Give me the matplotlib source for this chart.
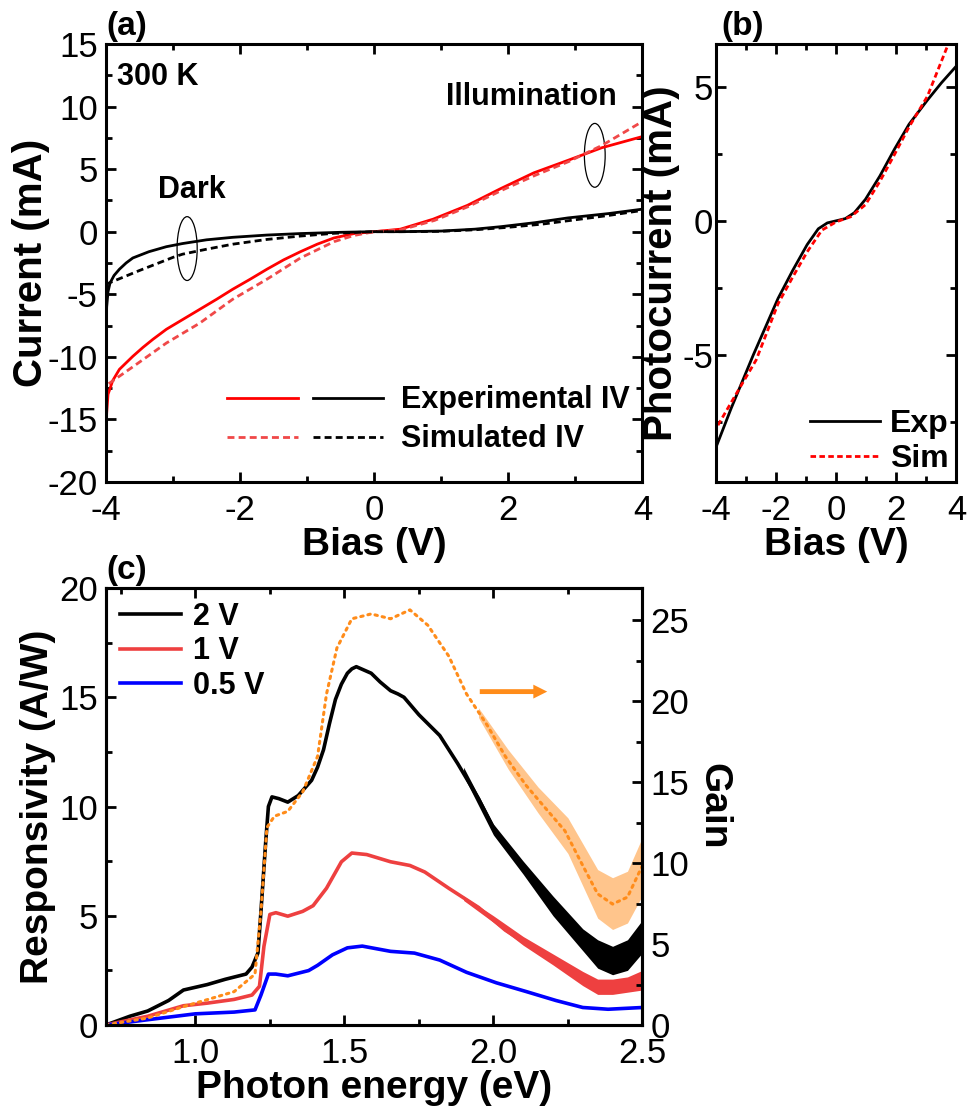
import numpy as np
import matplotlib
matplotlib.use('Agg')
import matplotlib.pyplot as plt
from matplotlib.legend_handler import HandlerTuple
from matplotlib.patches import Ellipse
from matplotlib.ticker import MultipleLocator, FormatStrFormatter

plt.rcParams['font.family'] = ['Liberation Sans', 'DejaVu Sans']
plt.rcParams['axes.unicode_minus'] = False
plt.rcParams['xtick.direction'] = 'in'
plt.rcParams['ytick.direction'] = 'in'

# ---- (a) IV curves, dark and illuminated ----
dark_exp_v = [-4.0, -3.99, -3.97, -3.94, -3.88, -3.8, -3.7, -3.6, -3.36, -3.1, -2.86, -2.5,
              -2.11, -1.6, -1.1, -0.5, 0.0, 0.4, 1.0, 1.5, 1.89, 2.4, 2.89, 3.5, 4.0]
dark_exp_i = [-8.0, -6.0, -4.8, -4.1, -3.5, -3.0, -2.5, -2.1, -1.6, -1.2, -0.95, -0.65,
              -0.45, -0.27, -0.15, -0.05, 0.0, 0.0, 0.05, 0.2, 0.4, 0.72, 1.1, 1.45, 1.8]
dark_sim_v = [-4.0, -3.5, -3.0, -2.86, -2.5, -2.11, -1.6, -1.1, -0.6, 0.0, 0.5, 1.0, 1.5,
              2.0, 2.5, 3.0, 3.5, 4.0]
dark_sim_i = [-4.2, -3.1, -2.05, -1.8, -1.4, -1.0, -0.62, -0.35, -0.13, 0.0, 0.0, 0.03, 0.15,
              0.35, 0.6, 0.95, 1.3, 1.7]
ill_exp_v = [-4.0, -3.99, -3.97, -3.9, -3.8, -3.6, -3.45, -3.3, -3.1, -2.85, -2.6, -2.35,
             -2.11, -1.85, -1.6, -1.35, -1.1, -0.85, -0.6, -0.3, 0.0, 0.39, 0.88, 1.39, 1.89,
             2.38, 2.89, 3.39, 4.0]
ill_exp_i = [-16.2, -14.5, -13.0, -11.9, -11.0, -9.96, -9.25, -8.6, -7.8, -7.0, -6.2, -5.4,
             -4.6, -3.8, -3.0, -2.25, -1.6, -1.0, -0.5, -0.15, 0.0, 0.2, 1.0, 2.1, 3.45,
             4.7, 5.7, 6.7, 7.6]
ill_sim_v = [-3.96, -3.6, -3.1, -2.6, -2.11, -1.6, -1.1, -0.6, -0.3, 0.0, 0.4, 0.9, 1.4, 1.9,
             2.4, 2.9, 3.4, 4.0]
ill_sim_i = [-12.15, -10.8, -8.9, -7.3, -5.4, -3.8, -2.1, -0.8, -0.3, 0.0, 0.15, 0.9, 2.0, 3.3,
             4.5, 5.6, 6.9, 8.8]

# ---- (b) photocurrent ----
pc_exp_v = [-4.0, -3.5, -2.76, -1.94, -1.45, -0.97, -0.6, -0.3, 0.0, 0.3, 0.6, 0.97, 1.45,
            1.94, 2.42, 3.03, 3.5, 4.0]
pc_exp_i = [-8.44, -7.0, -5.0, -2.9, -1.85, -0.89, -0.3, -0.08, 0.0, 0.08, 0.3, 0.8, 1.67,
            2.68, 3.6, 4.5, 5.15, 5.78]
pc_sim_v = [-3.94, -3.3, -2.67, -1.94, -1.45, -0.97, -0.48, 0.0, 0.48, 0.97, 1.45, 1.94, 2.42,
            3.03, 3.7]
pc_sim_i = [-7.63, -6.4, -5.2, -3.1, -2.1, -1.16, -0.35, -0.04, 0.15, 0.6, 1.47, 2.48, 3.5,
            4.64, 6.52]

# ---- (c) responsivity spectra and gain ----
e_2v = [0.70, 0.78, 0.84, 0.91, 0.96, 1.04, 1.10, 1.17, 1.19, 1.21, 1.22, 1.236, 1.245, 1.257,
        1.28, 1.31, 1.345, 1.39, 1.41, 1.43, 1.45, 1.47, 1.49, 1.51, 1.525, 1.54, 1.59, 1.62,
        1.655, 1.68, 1.70, 1.75, 1.82, 1.88, 1.95, 2.01, 2.08, 2.14, 2.22, 2.30, 2.35, 2.40,
        2.45, 2.48, 2.50]
r_2v = [0.0, 0.4, 0.64, 1.12, 1.6, 1.85, 2.09, 2.33, 2.65, 3.3, 5.2, 8.4, 10.0, 10.44,
        10.36, 10.2, 10.5, 11.2, 11.8, 12.6, 13.8, 14.9, 15.6, 16.1, 16.3, 16.4, 16.1, 15.7,
        15.3, 15.15, 15.0, 14.2, 13.25, 11.97, 10.36, 8.75, 7.63, 6.5, 5.2, 3.9, 3.3, 2.9,
        3.1, 3.6, 4.4]
e_1v = [0.70, 0.84, 0.96, 1.04, 1.13, 1.19, 1.215, 1.23, 1.25, 1.27, 1.31, 1.36, 1.395, 1.44,
        1.49, 1.525, 1.575, 1.655, 1.72, 1.77, 1.85, 1.95, 2.04, 2.14, 2.24, 2.30, 2.35, 2.43,
        2.50]
r_1v = [0.0, 0.4, 0.88, 1.0, 1.17, 1.37, 1.77, 3.6, 5.06, 5.14, 4.98, 5.2, 5.46, 6.26,
        7.47, 7.87, 7.8, 7.47, 7.3, 7.0, 6.26, 5.38, 4.34, 3.45, 2.73, 2.09, 1.69, 1.77, 2.0]
e_05v = [0.70, 0.84, 1.0, 1.13, 1.20, 1.22, 1.245, 1.27, 1.31, 1.38, 1.41, 1.46, 1.51, 1.56,
         1.655, 1.735, 1.82, 1.91, 2.01, 2.11, 2.21, 2.30, 2.385, 2.50]
r_05v = [0.0, 0.24, 0.51, 0.59, 0.69, 1.37, 2.33, 2.33, 2.25, 2.49, 2.73, 3.21, 3.53, 3.61,
         3.37, 3.29, 2.97, 2.41, 1.93, 1.53, 1.12, 0.80, 0.72, 0.8]
e_gain = [0.70, 0.84, 0.97, 1.05, 1.13, 1.20, 1.22, 1.24, 1.265, 1.31, 1.36, 1.41, 1.44,
          1.475, 1.525, 1.59, 1.655, 1.72, 1.78, 1.85, 1.91, 1.98, 2.04, 2.11, 2.17, 2.24,
          2.30, 2.35, 2.40, 2.45, 2.50]
gain_2v = [0.0, 0.43, 1.19, 1.62, 2.06, 3.14, 7.03, 12.2, 12.9, 13.2, 14.4, 16.6, 20.45,
           23.3, 25.1, 25.4, 25.1, 25.65, 24.7, 22.8, 20.45, 18.5, 16.6, 14.8, 13.5, 12.0,
           9.85, 8.1, 7.47, 7.9, 9.85]

# scatter envelopes of the noisy high-energy tails
tail_e = [1.90, 2.00, 2.10, 2.20, 2.30, 2.35, 2.40, 2.45, 2.50]
tail_2v_lo = [11.4, 8.7, 6.9, 5.0, 3.4, 2.6, 2.3, 2.5, 3.3]
tail_2v_hi = [11.8, 9.2, 7.5, 5.9, 4.4, 3.9, 3.6, 3.9, 4.8]
tail_1v_lo = [5.7, 4.7, 3.65, 2.75, 1.8, 1.4, 1.4, 1.5, 1.6]
tail_1v_hi = [5.9, 5.0, 4.05, 3.25, 2.45, 2.1, 2.1, 2.2, 2.5]
tail_gain_e = [1.95, 2.05, 2.15, 2.25, 2.30, 2.35, 2.40, 2.45, 2.50]
tail_gain_lo = [19.0, 15.8, 13.1, 10.6, 8.6, 6.6, 5.9, 6.3, 8.0]
tail_gain_hi = [19.6, 17.0, 14.7, 12.8, 11.2, 9.6, 9.1, 9.5, 11.6]

lab_font = dict(fontsize=28, fontweight='bold')
ylab_font = dict(fontsize=29, fontweight='bold')
txt_fs = 22
tick_fs = 25


def style_axis(ax):
    for s in ax.spines.values():
        s.set_linewidth(2.2)
    ax.tick_params(which='both', top=True, right=True, labelsize=tick_fs, width=2.0)
    ax.tick_params(which='major', length=7)
    ax.tick_params(which='minor', length=4)
    ax.tick_params(axis='x', pad=9)
    ax.tick_params(axis='y', pad=6)


fig = plt.figure(figsize=(9.77, 11.07), dpi=100)
ax_a = fig.add_axes([0.1085, 0.5646, 0.549, 0.3957])
ax_b = fig.add_axes([0.733, 0.5646, 0.246, 0.3957])
ax_c = fig.add_axes([0.1085, 0.0741, 0.549, 0.3947])

# (a)
red, red_l = '#ff0000', '#f04848'
l1, = ax_a.plot(ill_exp_v, ill_exp_i, color=red, lw=2.0)
l2, = ax_a.plot(dark_exp_v, dark_exp_i, color='black', lw=2.0)
l3, = ax_a.plot(ill_sim_v, ill_sim_i, color=red_l, lw=2.0, ls=(0, (2.5, 1.5)))
l4, = ax_a.plot(dark_sim_v, dark_sim_i, color='black', lw=2.0, ls=(0, (2.5, 1.5)))
ax_a.add_patch(Ellipse((-2.79, -1.35), 0.3, 5.1, fill=False, lw=0.9, ec='black'))
ax_a.add_patch(Ellipse((3.29, 6.1), 0.31, 5.1, fill=False, lw=0.9, ec='black'))
ax_a.set_xlim(-4, 4)
ax_a.set_ylim(-20, 15)
ax_a.xaxis.set_major_locator(MultipleLocator(2))
ax_a.xaxis.set_minor_locator(MultipleLocator(1))
ax_a.yaxis.set_major_locator(MultipleLocator(5))
ax_a.yaxis.set_minor_locator(MultipleLocator(2.5))
style_axis(ax_a)
ax_a.set_xlabel('Bias (V)', labelpad=0, **lab_font)
ax_a.set_ylabel('Current (mA)', labelpad=-2, **ylab_font)
ax_a.text(0.02, 0.925, '300 K', transform=ax_a.transAxes, fontsize=txt_fs, fontweight='bold',
          va='center')
ax_a.text(-2.72, 2.1, 'Dark', fontsize=txt_fs, fontweight='bold', ha='center', va='bottom')
ax_a.text(2.35, 10.8, 'Illumination', fontsize=txt_fs, fontweight='bold', ha='center',
          va='center')
ax_a.legend([(l1, l2), (l3, l4)], ['Experimental IV', 'Simulated IV'],
            handler_map={tuple: HandlerTuple(ndivide=None, pad=0.5)},
            loc='lower right', bbox_to_anchor=(1.0, 0.035), frameon=False,
            handlelength=5.1, prop={'weight': 'bold', 'size': txt_fs},
            borderaxespad=0.1, borderpad=0.3, labelspacing=0.3, handletextpad=0.6)
ax_a.text(0.0, 1.005, '(a)', transform=ax_a.transAxes, fontsize=24, fontweight='bold',
          va='bottom')

# (b)
ax_b.plot(pc_exp_v, pc_exp_i, color='black', lw=2.0, label='Exp')
ax_b.plot(pc_sim_v, pc_sim_i, color='red', lw=2.0, ls=(0, (2.0, 1.2)), label='Sim')
ax_b.set_xlim(-4, 4)
ax_b.set_ylim(-9.75, 6.6)
ax_b.xaxis.set_major_locator(MultipleLocator(2))
ax_b.xaxis.set_minor_locator(MultipleLocator(1))
ax_b.yaxis.set_major_locator(MultipleLocator(5))
ax_b.yaxis.set_minor_locator(MultipleLocator(2.5))
style_axis(ax_b)
ax_b.tick_params(axis='y', pad=2)
ax_b.set_xlabel('Bias (V)', labelpad=0, **lab_font)
ax_b.set_ylabel('Photocurrent (mA)', labelpad=2, **ylab_font)
ax_b.legend(loc='lower right', frameon=False, handlelength=2.2,
            prop={'weight': 'bold', 'size': 23}, borderaxespad=0.0, borderpad=0.25,
            labelspacing=0.15, handletextpad=0.3)
ax_b.text(0.02, 1.005, '(b)', transform=ax_b.transAxes, fontsize=24, fontweight='bold',
          va='bottom')

# (c)
orange = '#ff8c1a'
blue = '#0000ff'
red_c = '#ee4040'
ax_g = ax_c.twinx()
ax_g.fill_between(tail_gain_e, tail_gain_lo, tail_gain_hi, color=orange, alpha=0.5, lw=0)
ax_g.plot(e_gain, gain_2v, color=orange, lw=2.2, ls=(0, (0.8, 1.6)), dash_capstyle='round')
ax_g.annotate('', xy=(2.19, 20.6), xytext=(1.945, 20.6),
              arrowprops=dict(arrowstyle='simple,head_length=1.0,head_width=1.0,tail_width=0.35',
                              color=orange, lw=0))
ax_g.set_ylim(0, 27)
ax_g.yaxis.set_major_locator(MultipleLocator(5))
ax_g.yaxis.set_minor_locator(MultipleLocator(2.5))
ax_g.set_ylabel('Gain', rotation=270, labelpad=30, **lab_font)

ax_c.fill_between(tail_e, tail_2v_lo, tail_2v_hi, color='black', lw=0)
ax_c.fill_between(tail_e, tail_1v_lo, tail_1v_hi, color=red_c, lw=0)
ax_c.plot(e_2v, r_2v, color='black', lw=2.6, label='2 V')
ax_c.plot(e_1v, r_1v, color=red_c, lw=2.6, label='1 V')
ax_c.plot(e_05v, r_05v, color=blue, lw=2.6, label='0.5 V')
ax_c.set_xlim(0.7, 2.5)
ax_c.set_ylim(0, 20)
ax_c.xaxis.set_major_locator(MultipleLocator(0.5))
ax_c.xaxis.set_minor_locator(MultipleLocator(0.25))
ax_c.yaxis.set_major_locator(MultipleLocator(5))
ax_c.yaxis.set_minor_locator(MultipleLocator(2.5))
ax_c.xaxis.set_major_formatter(FormatStrFormatter('%.1f'))
style_axis(ax_c)
ax_c.tick_params(which='both', right=False)
for s in ax_g.spines.values():
    s.set_linewidth(2.2)
ax_g.tick_params(which='both', direction='in', labelsize=tick_fs, width=2.0, pad=6)
ax_g.tick_params(which='major', length=7)
ax_g.tick_params(which='minor', length=4)
ax_c.set_xlabel('Photon energy (eV)', labelpad=0, **lab_font)
ax_c.set_ylabel('Responsivity (A/W)', labelpad=2, **lab_font)
ax_c.legend(loc='upper left', frameon=False, handlelength=2.0,
            prop={'weight': 'bold', 'size': txt_fs}, borderaxespad=0.2, borderpad=0.25,
            labelspacing=0.15, handletextpad=0.4)
ax_c.text(0.0, 1.005, '(c)', transform=ax_c.transAxes, fontsize=24, fontweight='bold',
          va='bottom')

fig.savefig('out.png', dpi=100)
